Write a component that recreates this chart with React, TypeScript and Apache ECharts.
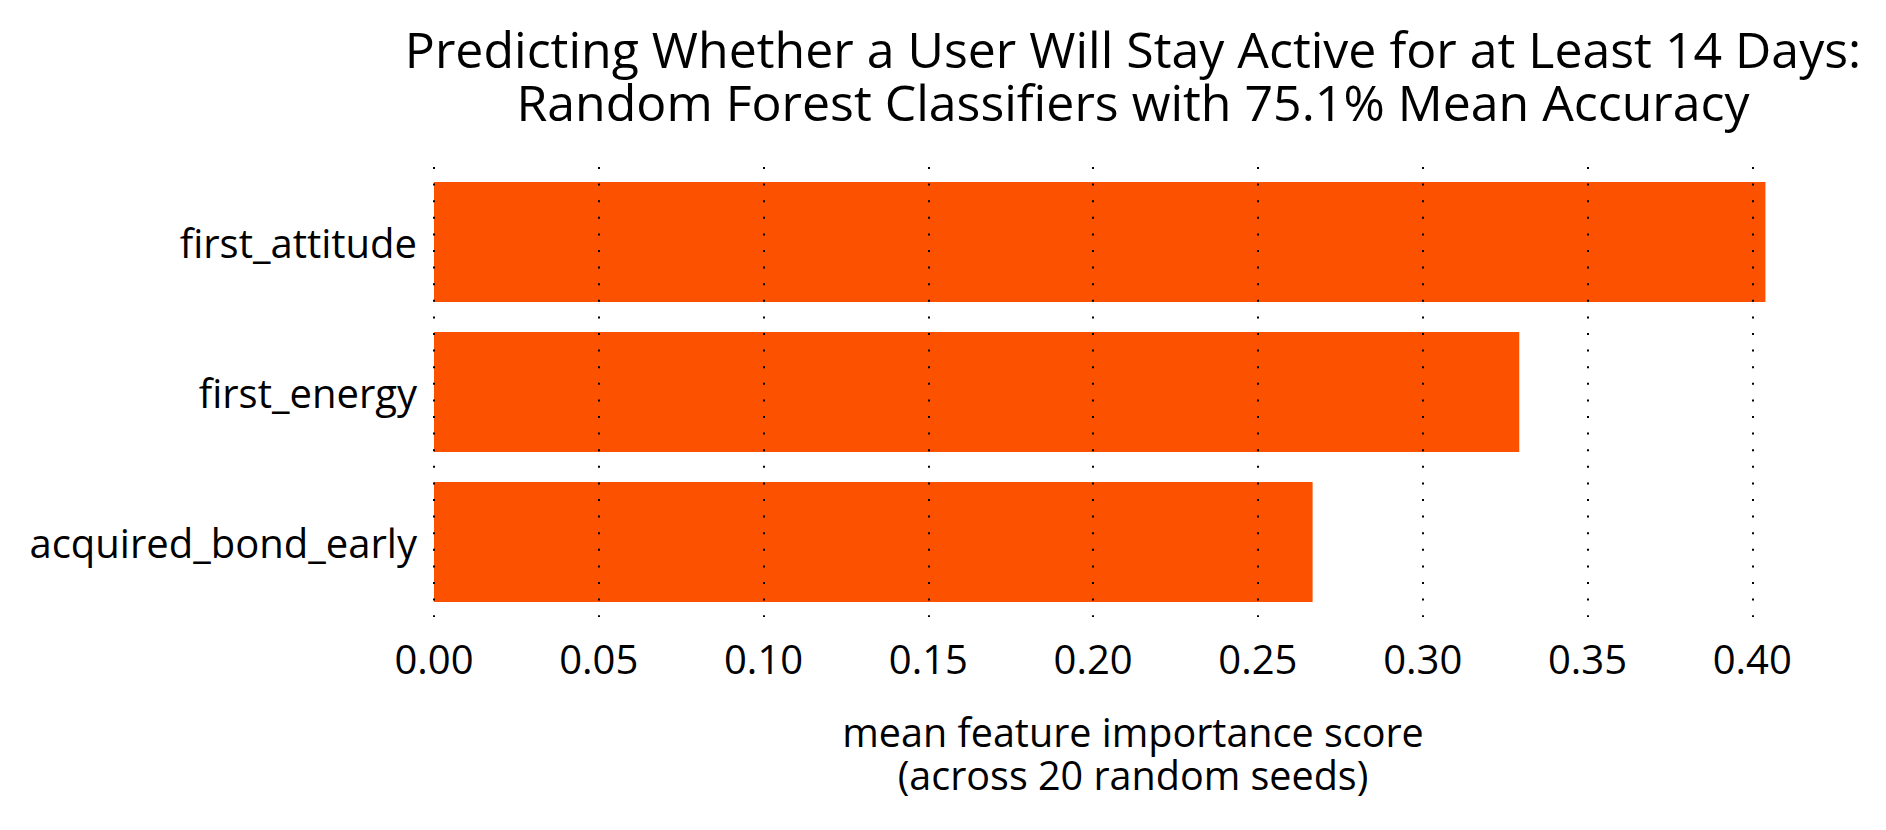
import React, { useEffect, useRef } from "react";
import * as echarts from "echarts";

const categories = ["first_attitude", "first_energy", "acquired_bond_early"];
const importance = [0.404, 0.3293, 0.2666];
const gridTicks = [0, 0.05, 0.1, 0.15, 0.2, 0.25, 0.3, 0.35, 0.4];
const titleLines = [
  "Predicting Whether a User Will Stay Active for at Least 14 Days:",
  "Random Forest Classifiers with 75.1% Mean Accuracy",
];
const xNameLines = ["mean feature importance score", "(across 20 random seeds)"];

const FONT = "Open Sans";

export default function App() {
  const ref = useRef<HTMLDivElement>(null);
  useEffect(() => {
    document.body.style.margin = "0";
    if (!ref.current) return;
    const chart = echarts.init(ref.current, null, { renderer: "svg" });
    const centerX = 1133;
    const titles = [
      ...titleLines.map((t, i) => ({
        text: t,
        left: centerX,
        top: 22 + i * 53,
        textAlign: "center",
        padding: 0,
        textStyle: {
          fontFamily: FONT,
          fontSize: 50,
          fontWeight: "normal",
          color: "#000",
          lineHeight: 53,
        },
      })),
      ...xNameLines.map((t, i) => ({
        text: t,
        left: centerX,
        top: 710 + i * 43,
        textAlign: "center",
        padding: 0,
        textStyle: {
          fontFamily: FONT,
          fontSize: 39.5,
          fontWeight: "normal",
          color: "#000",
          lineHeight: 43,
        },
      })),
    ];
    chart.setOption({
      animation: false,
      backgroundColor: "#ffffff",
      textStyle: { fontFamily: FONT },
      title: titles,
      grid: { left: 434, right: 53, top: 167, height: 450, containLabel: false },
      xAxis: {
        type: "value",
        min: 0,
        max: 0.4245,
        interval: 0.05,
        axisLine: { show: false },
        axisTick: { show: false },
        splitLine: { show: false },
        axisLabel: {
          showMaxLabel: false,
          fontSize: 40,
          color: "#000",
          margin: 21,
          fontFamily: FONT,
          formatter: (v: number) => v.toFixed(2),
        },
      },
      yAxis: {
        type: "category",
        data: categories,
        inverse: true,
        axisLine: { show: false },
        axisTick: { show: false },
        splitLine: { show: false },
        axisLabel: { fontSize: 40, color: "#000", margin: 17, fontFamily: FONT },
      },
      series: [
        {
          type: "bar",
          data: importance,
          barCategoryGap: "20%",
          itemStyle: { color: "#FC5200" },
          silent: true,
          markLine: {
            silent: true,
            symbol: "none",
            label: { show: false },
            lineStyle: { color: "#000", width: 2, type: [2, 14.6] },
            data: gridTicks.map((t) => ({ xAxis: t })),
          },
        },
      ],
    });
    return () => chart.dispose();
  }, []);
  return <div ref={ref} style={{ width: 1886, height: 830 }} />;
}
